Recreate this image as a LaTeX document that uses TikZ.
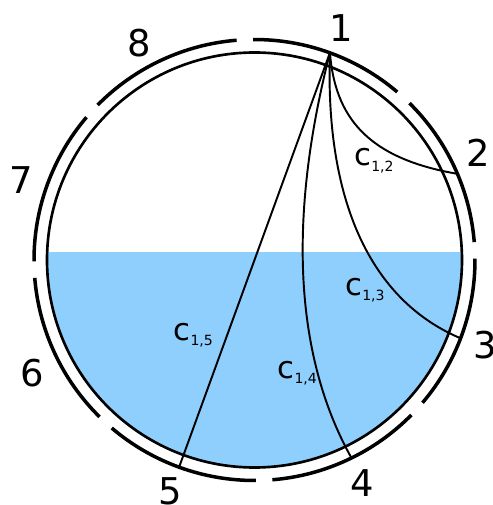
\documentclass[tikz,border=0pt]{standalone}
\usepackage{fontspec}
\setmainfont{DejaVu Sans}
\usetikzlibrary{calc}
\definecolor{water}{RGB}{143,207,253}
\begin{document}
\begin{tikzpicture}[x=0.02cm,y=0.02cm,
  innerc/.style={line width=1.5pt},
  outerc/.style={line width=2pt},
  chord/.style={line width=1.1pt},
  num/.style={font=\fontsize{21}{21}\selectfont, inner sep=0pt, anchor=center},
  clab/.style={inner sep=0pt, anchor=base west}]
\useasboundingbox (0,0) rectangle (493,505);
\coordinate (O) at (254.5,245);
% water
\begin{scope}
  \clip (O) circle (207.5);
  \fill[water] (0,0) rectangle (493,253);
\end{scope}
% inner circle
\draw[innerc] (O) circle (207.5);
% outer dashed circle
\foreach \k in {0,...,7}{
  \draw[outerc] (O) ++({4.65+45*\k}:220.5) arc[start angle={4.65+45*\k}, end angle={45.35+45*\k}, radius=220.5];
}
% endpoints
\coordinate (p1) at ($(O)+(70:220.5)$);
\coordinate (p2) at ($(O)+(23:220.5)$);
\coordinate (p3) at ($(O)+(-20.8:220.5)$);
\coordinate (p4) at ($(O)+(-63.9:220.5)$);
\coordinate (p5) at ($(O)+(-110:220.5)$);
% chords
\draw[chord] (p1) .. controls (335,390) and (365,347) .. (p2);
\draw[chord] (p1) .. controls (325,305) and (370,205) .. (p3);
\draw[chord] (p1) .. controls (300,335) and (280,175) .. (p4);
\draw[chord] (p1) -- (p5);
% labels
\node[num] (n1) at (341.7,476.7) {1};
\node[num] (n2) at (478,352) {2};
\node[num] (n3) at (485,160) {3};
\node[num] (n4) at (362.7,22) {4};
\node[num] (n5) at (170.7,13.3) {5};
\node[num] (n6) at (32.7,131.7) {6};
\node[num] (n7) at (21.7,325) {7};
\node[num] (n8) at (139.3,462.3) {8};
\newcommand{\clabtext}[1]{{\fontsize{17.5}{17.5}\selectfont c}\raisebox{-3.2pt}{\fontsize{8}{8}\selectfont #1}}
\node[clab] (c12) at (354,339.3) {\clabtext{1,2}};
\node[clab] (c13) at (345,210) {\clabtext{1,3}};
\node[clab] (c15) at (173.3,165) {\clabtext{1,5}};
\node[clab] (c14) at (277.3,126.7) {\clabtext{1,4}};
\end{tikzpicture}
\end{document}
